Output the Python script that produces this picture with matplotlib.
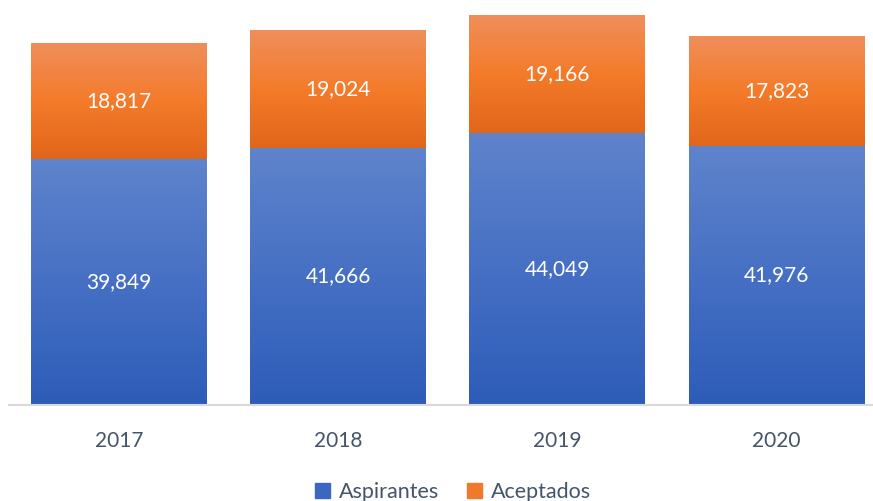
import matplotlib.pyplot as plt
import numpy as np
from matplotlib.colors import LinearSegmentedColormap

# datos
anios = ["2017", "2018", "2019", "2020"]
aspirantes = [39849, 41666, 44049, 41976]
aceptados = [18817, 19024, 19166, 17823]

plt.rcParams['font.family'] = ['Lato', 'DejaVu Sans']

cmap_azul = LinearSegmentedColormap.from_list("azul", ["#2d5cb8", "#4670c4", "#5f84cc"])
cmap_naranja = LinearSegmentedColormap.from_list("naranja", ["#e2661a", "#f47b2a", "#ef8f5c"])
gris_texto = "#44546a"


def rellenar_gradiente(ax, barras, cmap):
    grad = np.linspace(0, 1, 256).reshape(-1, 1)
    for b in barras:
        x0, y0 = b.get_x(), b.get_y()
        w, h = b.get_width(), b.get_height()
        im = ax.imshow(grad, cmap=cmap, origin="lower", aspect="auto",
                       extent=(x0, x0 + w, y0, y0 + h), zorder=2)
        im.set_clip_path(b)
        b.set_facecolor("none")


fig = plt.figure(figsize=(8.73, 5.01), dpi=100)
ax = fig.add_axes([9 / 873, 96 / 501, 864 / 873, 405 / 501])

x = np.arange(len(anios))
b1 = ax.bar(x, aspirantes, width=0.803, color=cmap_azul(0.5), label="Aspirantes", zorder=2)
b2 = ax.bar(x, aceptados, width=0.803, bottom=aspirantes, color=cmap_naranja(0.5),
            label="Aceptados", zorder=2)

# leyenda con colores planos
handles = [plt.Rectangle((0, 0), 1, 1, color="#3a67c0"),
           plt.Rectangle((0, 0), 1, 1, color="#f07a2c")]
ax.legend(handles, ["Aspirantes", "Aceptados"], loc="center", bbox_to_anchor=(0.514, -0.214),
          ncol=2, frameon=False, fontsize=15.5, handlelength=0.7, handleheight=0.7,
          handletextpad=0.4, columnspacing=1.3, labelcolor=gris_texto)

rellenar_gradiente(ax, b1, cmap_azul)
rellenar_gradiente(ax, b2, cmap_naranja)

for i in range(len(anios)):
    ax.text(x[i], aspirantes[i] / 2, f"{aspirantes[i]:,}", ha="center", va="center",
            color="white", fontsize=15, zorder=3)
    ax.text(x[i], aspirantes[i] + aceptados[i] / 2, f"{aceptados[i]:,}", ha="center",
            va="center", color="white", fontsize=15, zorder=3)

ax.set_xlim(-0.502, 3.44)
ax.set_ylim(0, 65570)
ax.set_xticks(x)
ax.set_xticklabels(anios, fontsize=15, color=gris_texto)
ax.tick_params(axis="x", length=0, pad=19)
ax.set_yticks([])
for lado in ["top", "right", "left"]:
    ax.spines[lado].set_visible(False)
ax.spines["bottom"].set_color("#d9d9d9")
ax.spines["bottom"].set_linewidth(1.5)
ax.spines["bottom"].set_zorder(4)

fig.savefig("out.png", dpi=100)
